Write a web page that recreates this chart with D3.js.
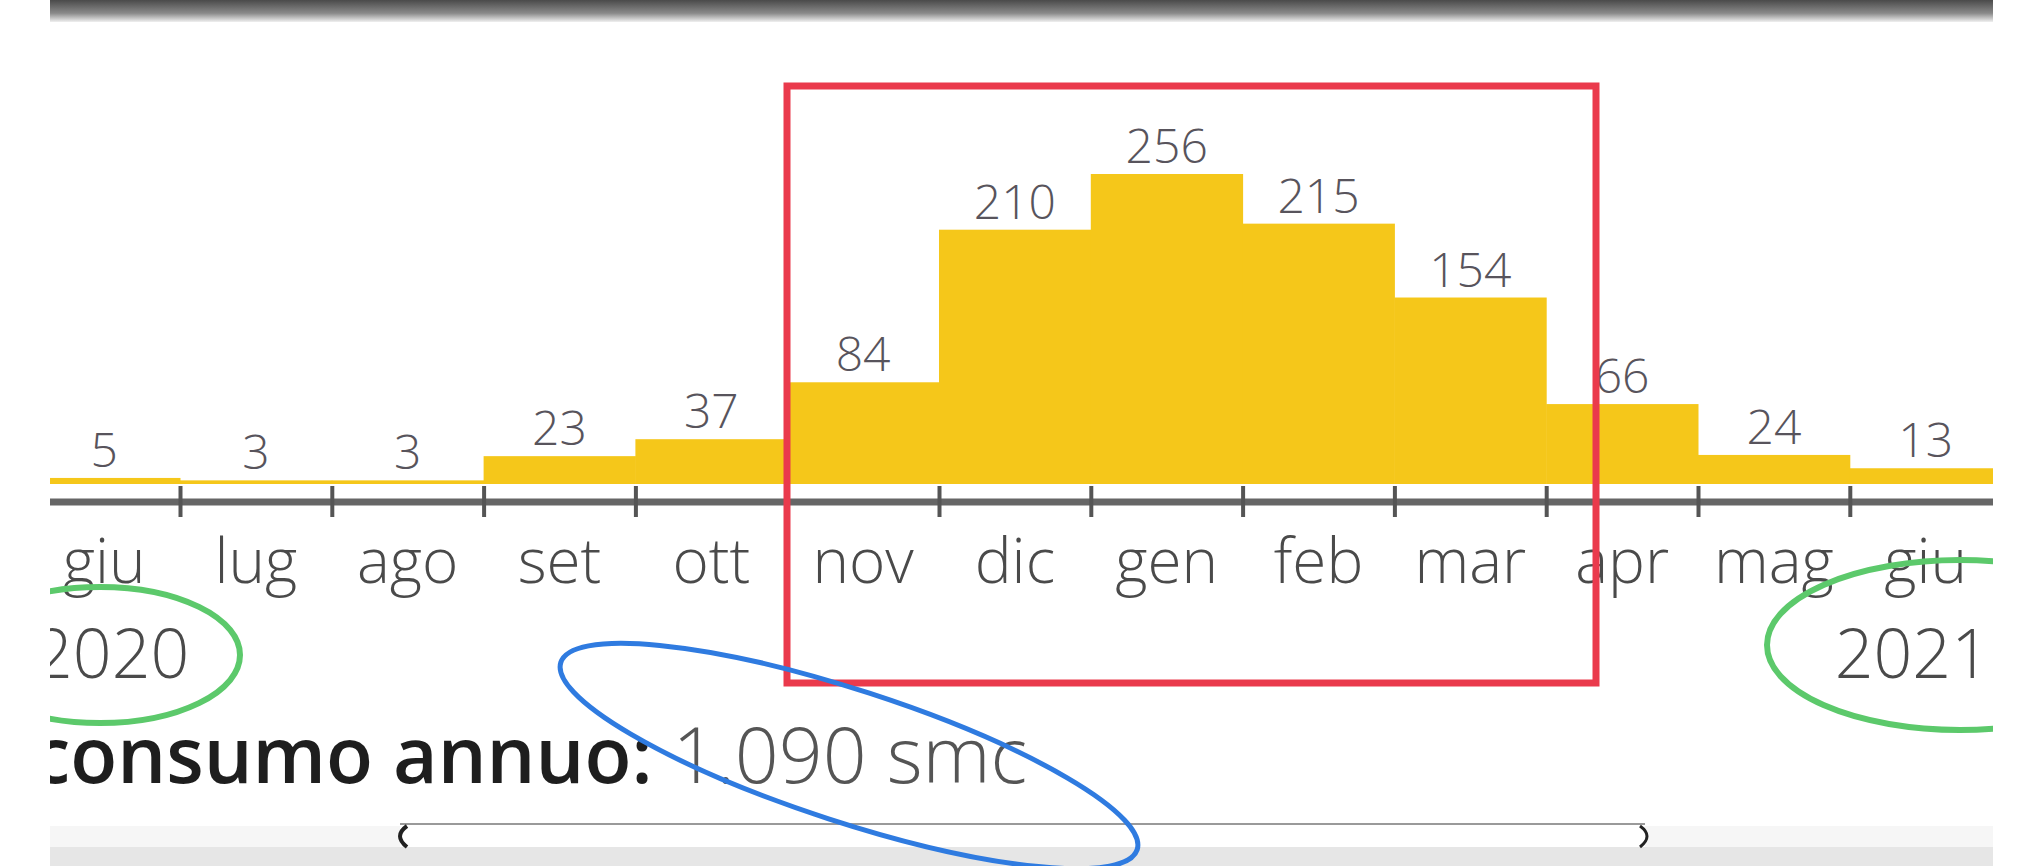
<!DOCTYPE html>
<html><head><meta charset="utf-8">
<script src="https://cdn.jsdelivr.net/npm/d3@7"></script>
<style>
html,body{margin:0;padding:0;background:#fff;}
svg{display:block;}
text{font-family:"Open Sans","Noto Sans",sans-serif;}
</style></head>
<body><svg id="c" width="2029" height="866"></svg>
<script>
const months = ["giu","lug","ago","set","ott","nov","dic","gen","feb","mar","apr","mag","giu"];
const values = [5,3,3,23,37,84,210,256,215,154,66,24,13];
const years = ["2020","2021"];
const summaryLabel = "consumo annuo:";
const summaryValue = "1.090 smc";

const W = 2029, H = 866;
const left = 50, right = 1993;
const svg = d3.select("#c");
const defs = svg.append("defs");
defs.append("clipPath").attr("id","vp").append("rect").attr("x",left).attr("y",0).attr("width",right-left).attr("height",H);
const g = defs.append("linearGradient").attr("id","topg").attr("x1",0).attr("y1",0).attr("x2",0).attr("y2",1);
g.append("stop").attr("offset","0%").attr("stop-color","#4a4a4a");
g.append("stop").attr("offset","60%").attr("stop-color","#8a8a8a");
g.append("stop").attr("offset","100%").attr("stop-color","#f0f0f0");

const root = svg.append("g").attr("clip-path","url(#vp)");
root.append("rect").attr("x",left).attr("y",0).attr("width",right-left).attr("height",22).attr("fill","url(#topg)");

const keys = d3.range(months.length);
const x = d3.scaleBand().domain(keys).range([28.2, 2001.6]).padding(0);
const y = d3.scaleLinear().domain([0,256]).range([484,174]);

root.append("g").selectAll("rect").data(values).join("rect")
  .attr("x",(d,i)=>x(i)).attr("width",x.bandwidth()+0.5)
  .attr("y",d=>y(d)).attr("height",d=>y(0)-y(d))
  .attr("fill","#f5c71a");

root.append("g").selectAll("text").data(values).join("text")
  .attr("x",(d,i)=>x(i)+x.bandwidth()/2).attr("y",d=>y(d)-11)
  .attr("text-anchor","middle").attr("font-size",48).attr("font-weight",300)
  .attr("fill","#58545c").text(d=>d);

root.append("line").attr("x1",left).attr("x2",right).attr("y1",502).attr("y2",502)
  .attr("stroke","#666").attr("stroke-width",7);

const edge = d3.scaleLinear().domain([0,months.length]).range(x.range());
const tickAxis = d3.axisBottom(edge).tickValues(d3.range(1,months.length)).tickSize(31).tickFormat("");
const ta = root.append("g").attr("transform","translate(0,486)").call(tickAxis);
ta.select(".domain").remove();
ta.selectAll(".tick line").attr("stroke","#555").attr("stroke-width",4);

const labAxis = d3.axisBottom(x).tickSize(0).tickPadding(0).tickFormat(i=>months[i]);
const la = root.append("g").attr("transform","translate(0,583)").call(labAxis);
la.select(".domain").remove();
la.selectAll(".tick text").attr("dy",0).attr("y",0).attr("font-size",62).attr("font-weight",300)
  .attr("fill","#4a4a4a").attr("font-family","'Open Sans',sans-serif");

root.append("text").attr("x",34).attr("y",678).attr("font-size",68).attr("font-weight",300)
  .attr("fill","#4a4a4a").text(years[0]);
root.append("text").attr("x",1990).attr("y",678).attr("text-anchor","end").attr("font-size",68).attr("font-weight",300)
  .attr("fill","#4a4a4a").text(years[1]);

const st = root.append("text").attr("x",32).attr("y",783).attr("font-size",77);
st.append("tspan").attr("font-weight",600).attr("fill","#1e1e1e").text(summaryLabel);
st.append("tspan").attr("font-weight",300).attr("fill","#555").text(" " + summaryValue);

root.append("rect").attr("x",left).attr("y",847).attr("width",right-left).attr("height",19).attr("fill","#e6e6e6");
root.append("rect").attr("x",left).attr("y",826).attr("width",right-left).attr("height",21).attr("fill","#f6f6f6");
root.append("rect").attr("x",400).attr("y",824).attr("width",1245).attr("height",23).attr("fill","#fff");
root.append("line").attr("x1",400).attr("x2",1645).attr("y1",824).attr("y2",824).attr("stroke","#9a9a9a").attr("stroke-width",2);
root.append("path").attr("d","M407,826 Q393,836 407,847").attr("fill","none").attr("stroke","#222").attr("stroke-width",4);
root.append("path").attr("d","M1640,826 Q1654,836 1640,847").attr("fill","none").attr("stroke","#222").attr("stroke-width",3);

root.append("rect").attr("x",787).attr("y",86).attr("width",1596-787).attr("height",683-86)
  .attr("fill","none").attr("stroke","#ea3a4c").attr("stroke-width",7);
root.append("ellipse").attr("cx",100).attr("cy",655).attr("rx",140).attr("ry",68)
  .attr("fill","none").attr("stroke","#5cc96b").attr("stroke-width",6);
root.append("ellipse").attr("cx",1960).attr("cy",645).attr("rx",193).attr("ry",85)
  .attr("fill","none").attr("stroke","#5cc96b").attr("stroke-width",6);
root.append("ellipse").attr("cx",849).attr("cy",756).attr("rx",303).attr("ry",66)
  .attr("transform","rotate(18,849,756)")
  .attr("fill","none").attr("stroke","#2f7be0").attr("stroke-width",5);
</script></body></html>
